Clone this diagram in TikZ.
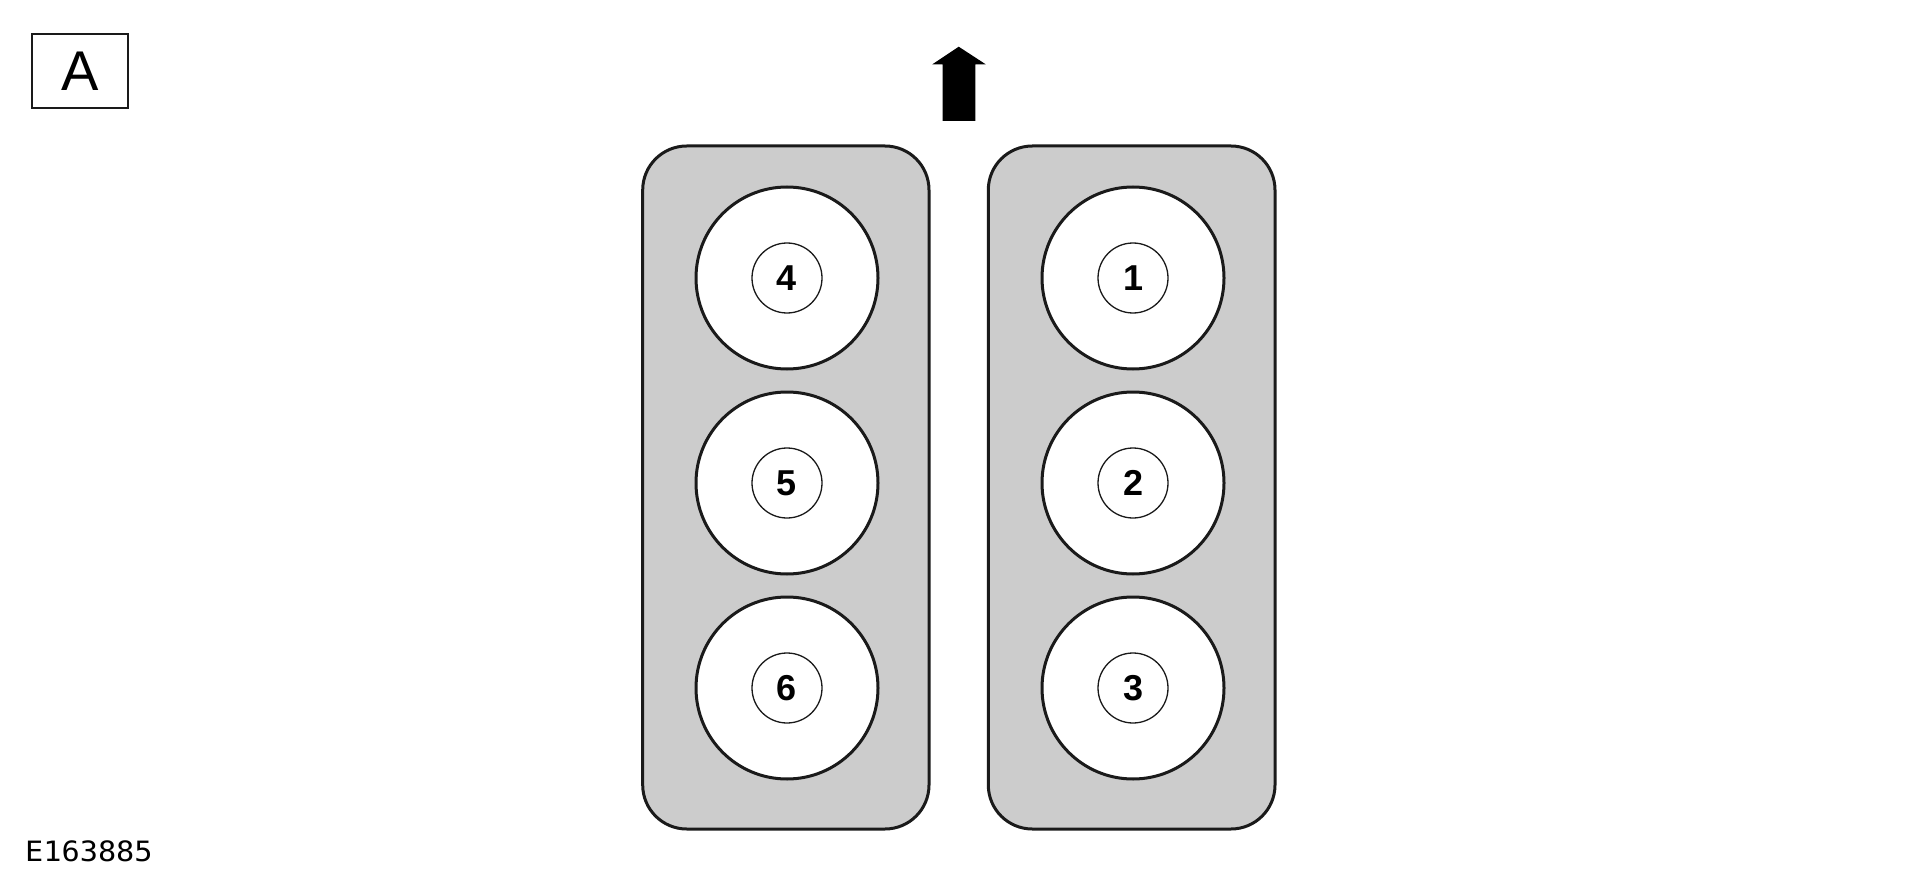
\documentclass[tikz,border=0pt]{standalone}
\usepackage{fontspec}
\setmainfont{Liberation Sans}
\newfontfamily\codefont{DejaVu Sans Mono}
\definecolor{bankgrey}{HTML}{CCCCCC}
\definecolor{inkline}{HTML}{1A1A1A}
\begin{document}
\begin{tikzpicture}[x=1pt,y=-1pt,
  bank/.style={draw=inkline,line width=3pt,fill=bankgrey,rounded corners=44pt},
  bore/.style={circle,draw=inkline,line width=3pt,fill=white,minimum size=182pt,inner sep=0pt},
  numring/.style={circle,draw=inkline,line width=1.3pt,fill=white,minimum size=70pt,inner sep=0pt,font=\fontsize{36}{36}\selectfont\bfseries},
  viewbox/.style={draw=inkline,line width=1.5pt,minimum width=96pt,minimum height=74pt,inner sep=0pt,font=\fontsize{56}{56}\selectfont}
]
\useasboundingbox (0,0) rectangle (1920,869);
\node[viewbox] (A) at (80,71) {A};
\fill[black] (958.7,46.7) -- (985.7,64.3) -- (975.3,64.3) -- (975.3,121) -- (942.7,121) -- (942.7,64.3) -- (932.3,64.3) -- cycle;
\draw[bank] (642.7,146) rectangle (929,829);
\draw[bank] (988.3,146) rectangle (1275,829);
\foreach \n/\x/\y in {4/787/278,5/787/483,6/787/688,1/1133/278,2/1133/483,3/1133/688}{
  \node[bore] (b\n) at (\x,\y) {};
  \node[numring] (c\n) at (\x,\y) {\n};
}
\node[anchor=west,font=\codefont\fontsize{28}{28}\selectfont,inner sep=0pt] (code) at (25,851) {\scalebox{1.08}[1]{E163885}};
\end{tikzpicture}
\end{document}
